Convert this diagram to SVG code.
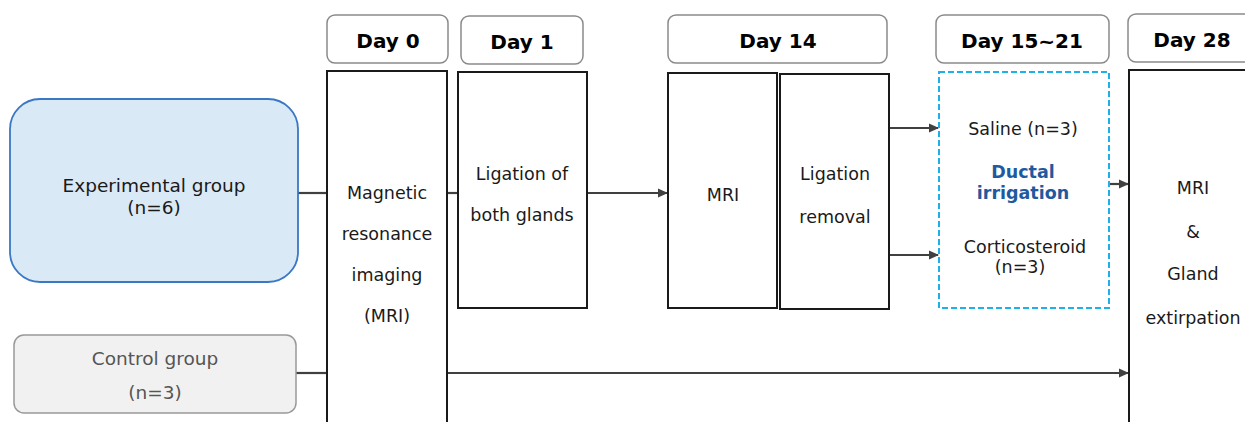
<svg xmlns="http://www.w3.org/2000/svg" width="1245" height="422" viewBox="0 0 1245 422">
<style>
text{font-family:"DejaVu Sans",Verdana,sans-serif;text-anchor:middle;fill:#1a1a1a}
.day rect{fill:#fff;stroke:#8a8a8a;stroke-width:1.5}
.day text{font-weight:bold;font-size:20px;fill:#000}
.box{fill:#fff;stroke:#1a1a1a;stroke-width:2}
.t{font-size:17.5px}
.g{font-size:18.5px}
.conn line{stroke:#404040;stroke-width:2.2}
</style>
<defs>
<marker id="ah" markerWidth="10" markerHeight="10" refX="9" refY="5" orient="auto" markerUnits="userSpaceOnUse">
<path d="M0,0.5 L10,5 L0,9.5 Z" fill="#404040"/>
</marker>
</defs>
<g class="conn">
<line x1="298" y1="193" x2="327" y2="193"/>
<line x1="296" y1="373" x2="327" y2="373"/>
<line x1="447" y1="193" x2="457" y2="193"/>
<line x1="587" y1="193" x2="667" y2="193" marker-end="url(#ah)"/>
<line x1="889" y1="128" x2="938" y2="128" marker-end="url(#ah)"/>
<line x1="889" y1="255" x2="938" y2="255" marker-end="url(#ah)"/>
<line x1="1110" y1="184" x2="1128" y2="184" marker-end="url(#ah)"/>
<line x1="447" y1="373" x2="1128" y2="373" marker-end="url(#ah)"/>
</g>
<g id="day0" class="day"><rect x="327" y="15" width="121" height="48" rx="8"/><text x="388" y="48">Day 0</text></g>
<g id="day1" class="day"><rect x="461" y="16" width="122" height="48" rx="8"/><text x="522" y="49">Day 1</text></g>
<g id="day14" class="day"><rect x="668" y="15" width="219" height="48" rx="8"/><text x="778" y="48">Day 14</text></g>
<g id="day15" class="day"><rect x="936" y="15" width="173" height="48" rx="8"/><text x="1022" y="48">Day 15~21</text></g>
<g id="day28" class="day"><rect x="1128" y="14" width="130" height="48" rx="8"/><text x="1192" y="47">Day 28</text></g>
<g id="exp"><rect x="10" y="99" width="288" height="183" rx="30" fill="#dae9f6" stroke="#3a78c4" stroke-width="1.8"/><text class="g" x="154" y="192">Experimental group</text><text class="g" x="154" y="214">(n=6)</text></g>
<g id="ctrl"><rect x="14" y="335" width="282" height="78" rx="10" fill="#f1f1f1" stroke="#999" stroke-width="1.5"/><text class="g" x="155" y="365" style="fill:#555">Control group</text><text class="g" x="155" y="399" style="fill:#555">(n=3)</text></g>
<g id="mri0"><rect class="box" x="327" y="71" width="120" height="360"/><text class="t" x="387" y="199">Magnetic</text><text class="t" x="387" y="240">resonance</text><text class="t" x="387" y="281">imaging</text><text class="t" x="387" y="322">(MRI)</text></g>
<g id="lig"><rect class="box" x="458" y="72" width="129" height="236"/><text class="t" x="522" y="180">Ligation of</text><text class="t" x="522" y="221">both glands</text></g>
<g id="mri14"><rect class="box" x="668" y="73" width="109" height="235"/><text class="t" x="723" y="201">MRI</text></g>
<g id="rem"><rect class="box" x="780" y="74" width="109" height="235"/><text class="t" x="835" y="180">Ligation</text><text class="t" x="835" y="223">removal</text></g>
<g id="irr"><rect x="939" y="72" width="170" height="236" fill="#fff" stroke="#1eb0e8" stroke-width="2" stroke-dasharray="6,3"/><text class="t" x="1023" y="135">Saline (n=3)</text><text class="t" x="1023" y="178" style="font-weight:bold;fill:#1f5aa0">Ductal</text><text class="t" x="1023" y="199" style="font-weight:bold;fill:#1f5aa0">irrigation</text><text class="t" x="1025" y="253">Corticosteroid</text><text class="t" x="1020" y="273">(n=3)</text></g>
<g id="final"><rect class="box" x="1129" y="70" width="130" height="360"/><text class="t" x="1193" y="194">MRI</text><text class="t" x="1193" y="238">&amp;</text><text class="t" x="1193" y="280">Gland</text><text class="t" x="1193" y="324">extirpation</text></g>
</svg>
